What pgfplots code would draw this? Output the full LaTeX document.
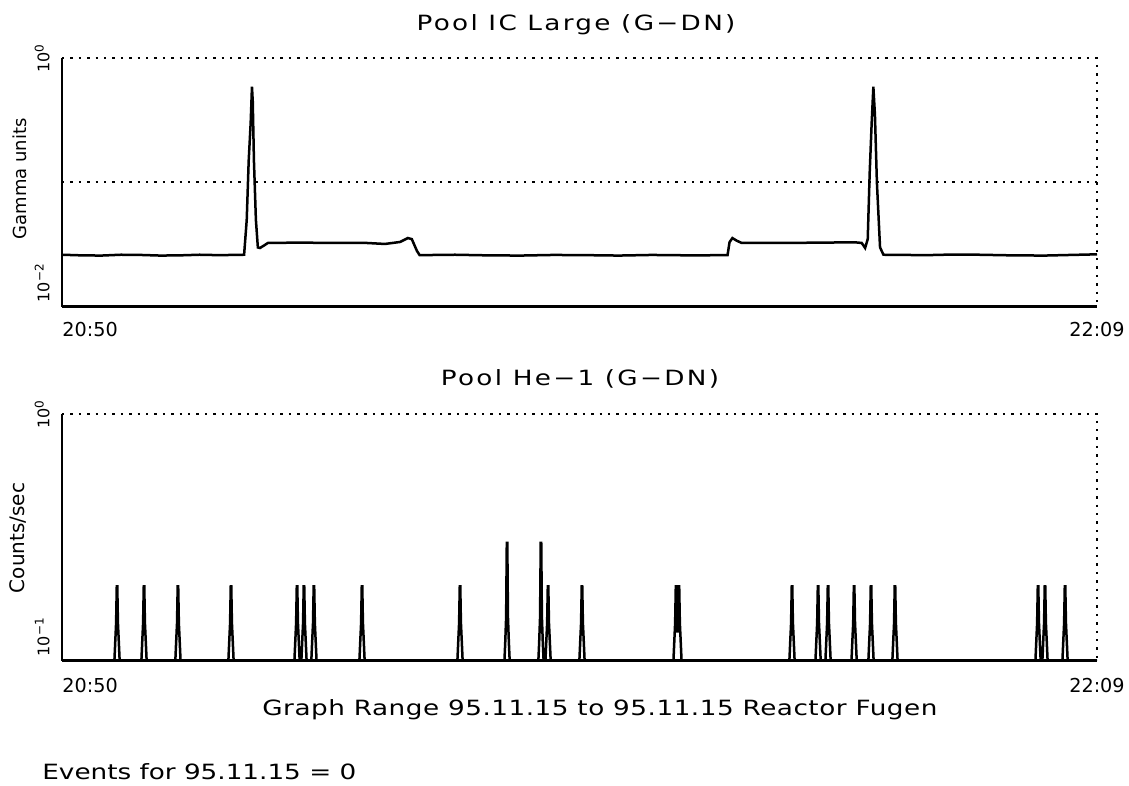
\documentclass[border=0pt]{standalone}
\usepackage{fontspec}
\setmainfont{DejaVu Sans}
\newfontfamily\spacedT[FakeStretch=1.25, LetterSpace=11]{DejaVu Sans}
\newfontfamily\spacedG[FakeStretch=1.25, LetterSpace=2.5]{DejaVu Sans}
\newfontfamily\stretchE[FakeStretch=1.25]{DejaVu Sans}
\usepackage{pgfplots}
\pgfplotsset{compat=1.18}
\tikzset{dotline/.style={black, line width=1pt, dash pattern=on 1.2pt off 3pt},
  ylab/.style={rotate=90, inner sep=0pt, font=\fontsize{8}{9}\selectfont},
  xlab/.style={inner sep=0pt, font=\fontsize{9.6}{11}\selectfont}}
\begin{document}
\begin{tikzpicture}
\path (0,0) rectangle (564.5pt,393pt);
% ---------- top panel ----------
\begin{axis}[at={(31pt,239.65pt)}, anchor=south west, scale only axis, width=517.5pt, height=124.2pt,
  xmin=0, xmax=79, ymode=log, ymin=0.01, ymax=1, clip mode=individual,
  axis x line*=bottom, axis y line*=left, xtick=\empty, ytick=\empty,
  x axis line style={line width=1.5pt}, y axis line style={line width=1pt}]
\addplot[black, line width=1.25pt] coordinates {
(0,0.0262) (1.5,0.0259) (3,0.0258) (4.5,0.0262) (6,0.0261) (7.5,0.0258) (9,0.0259) (10.5,0.0262) (12,0.026) (13.9,0.0262)
(14.1,0.05) (14.25,0.15) (14.4,0.3) (14.5,0.59) (14.56,0.45) (14.65,0.15) (14.8,0.05) (14.95,0.03)
(15.11,0.0297) (15.4,0.031) (15.72,0.0326) (18,0.0328) (21,0.0326) (23,0.0327) (24.65,0.032)
(25.8,0.0332) (26.4,0.0357) (26.7,0.035) (27.1,0.028) (27.3,0.026)
(30,0.0262) (32.5,0.0259) (35,0.0258) (37.5,0.0261) (40,0.026) (42.5,0.0258) (45,0.0261) (48,0.0259) (50.8,0.026)
(50.95,0.033) (51.17,0.0357) (51.5,0.034) (51.88,0.0326) (55,0.0326) (58,0.0328) (60.5,0.033) (61.04,0.0326)
(61.3,0.0297) (61.5,0.035) (61.65,0.12) (61.8,0.3) (61.93,0.59) (62.05,0.35) (62.2,0.1) (62.44,0.03)
(62.7,0.0262) (66,0.026) (68,0.0263) (70,0.0262) (72.5,0.0259) (75,0.0258) (77,0.0261) (79,0.0264)
};
\addplot[black, line width=1pt, dash pattern=on 1.2pt off 3pt] coordinates {(0,0.1) (79,0.1)};
\draw[dotline] (rel axis cs:0,1) -- (rel axis cs:1,1) -- (rel axis cs:1,0);
\node[ylab, anchor=south] at ([xshift=-6pt]rel axis cs:0,1) {10\textsuperscript{0}};
\node[ylab, anchor=south west] at ([xshift=-6pt,yshift=2pt]rel axis cs:0,0) {10\textsuperscript{−2}};
\node[xlab, anchor=north west] at ([yshift=-7.5pt]rel axis cs:0,0) {20:50};
\node[xlab, anchor=north] at ([yshift=-7.5pt]rel axis cs:1,0) {22:09};
\end{axis}
% ---------- bottom panel ----------
\begin{axis}[at={(31pt,62.65pt)}, anchor=south west, scale only axis, width=517.5pt, height=123.35pt,
  xmin=0, xmax=79, ymode=log, ymin=0.1, ymax=1, clip mode=individual,
  axis x line*=bottom, axis y line*=left, xtick=\empty, ytick=\empty,
  x axis line style={line width=1.5pt}, y axis line style={line width=1pt}]
\addplot[black, line width=1.25pt] coordinates {
(0,0.1)
(4.00,0.1) (4.06,0.118) (4.13,0.142) (4.18,0.2) (4.22,0.2) (4.27,0.142) (4.34,0.118) (4.40,0.1)
(6.06,0.1) (6.12,0.118) (6.19,0.142) (6.24,0.2) (6.28,0.2) (6.33,0.142) (6.40,0.118) (6.46,0.1)
(8.65,0.1) (8.71,0.118) (8.78,0.142) (8.83,0.2) (8.87,0.2) (8.92,0.142) (8.99,0.118) (9.05,0.1)
(12.70,0.1) (12.76,0.118) (12.83,0.142) (12.88,0.2) (12.92,0.2) (12.97,0.142) (13.04,0.118) (13.10,0.1)
(17.74,0.1) (17.80,0.118) (17.87,0.142) (17.92,0.2) (17.96,0.2) (18.01,0.142) (18.08,0.118) (18.14,0.1)
(18.27,0.1) (18.33,0.118) (18.40,0.142) (18.45,0.2) (18.49,0.2) (18.54,0.142) (18.61,0.118) (18.67,0.1)
(19.03,0.1) (19.09,0.118) (19.16,0.142) (19.21,0.2) (19.25,0.2) (19.30,0.142) (19.37,0.118) (19.43,0.1)
(22.70,0.1) (22.76,0.118) (22.83,0.142) (22.88,0.2) (22.92,0.2) (22.97,0.142) (23.04,0.118) (23.10,0.1)
(30.18,0.1) (30.24,0.118) (30.31,0.142) (30.36,0.2) (30.40,0.2) (30.45,0.142) (30.52,0.118) (30.58,0.1)
(33.77,0.1) (33.83,0.118) (33.90,0.15) (33.95,0.3) (33.99,0.3) (34.04,0.15) (34.11,0.118) (34.17,0.1)
(36.36,0.1) (36.42,0.118) (36.49,0.15) (36.54,0.3) (36.58,0.3) (36.63,0.15) (36.70,0.118) (36.76,0.1)
(36.90,0.1) (36.96,0.118) (37.03,0.142) (37.08,0.2) (37.12,0.2) (37.17,0.142) (37.24,0.118) (37.30,0.1)
(39.49,0.1) (39.55,0.118) (39.62,0.142) (39.67,0.2) (39.71,0.2) (39.76,0.142) (39.83,0.118) (39.89,0.1)
(46.67,0.1) (46.73,0.118) (46.80,0.142) (46.85,0.2) (46.89,0.2) (46.94,0.142) (46.98,0.13) (47.02,0.142) (47.07,0.2) (47.11,0.2) (47.16,0.142) (47.23,0.118) (47.29,0.1)
(55.52,0.1) (55.58,0.118) (55.65,0.142) (55.70,0.2) (55.74,0.2) (55.79,0.142) (55.86,0.118) (55.92,0.1)
(57.51,0.1) (57.57,0.118) (57.64,0.142) (57.69,0.2) (57.73,0.2) (57.78,0.142) (57.85,0.118) (57.91,0.1)
(58.27,0.1) (58.33,0.118) (58.40,0.142) (58.45,0.2) (58.49,0.2) (58.54,0.142) (58.61,0.118) (58.67,0.1)
(60.26,0.1) (60.32,0.118) (60.39,0.142) (60.44,0.2) (60.48,0.2) (60.53,0.142) (60.60,0.118) (60.66,0.1)
(61.55,0.1) (61.61,0.118) (61.68,0.142) (61.73,0.2) (61.77,0.2) (61.82,0.142) (61.89,0.118) (61.95,0.1)
(63.38,0.1) (63.44,0.118) (63.51,0.142) (63.56,0.2) (63.60,0.2) (63.65,0.142) (63.72,0.118) (63.78,0.1)
(74.30,0.1) (74.36,0.118) (74.43,0.142) (74.48,0.2) (74.52,0.2) (74.57,0.142) (74.64,0.118) (74.70,0.1)
(74.83,0.1) (74.89,0.118) (74.96,0.142) (75.01,0.2) (75.05,0.2) (75.10,0.142) (75.17,0.118) (75.23,0.1)
(76.36,0.1) (76.42,0.118) (76.49,0.142) (76.54,0.2) (76.58,0.2) (76.63,0.142) (76.70,0.118) (76.76,0.1)
(79,0.1)
};
\draw[dotline] (rel axis cs:0,1) -- (rel axis cs:1,1) -- (rel axis cs:1,0);
\node[ylab, anchor=south] at ([xshift=-6pt]rel axis cs:0,1) {10\textsuperscript{0}};
\node[ylab, anchor=south west] at ([xshift=-6pt,yshift=2pt]rel axis cs:0,0) {10\textsuperscript{−1}};
\node[xlab, anchor=north west] at ([yshift=-8.5pt]rel axis cs:0,0) {20:50};
\node[xlab, anchor=north] at ([yshift=-8.5pt]rel axis cs:1,0) {22:09};
\end{axis}
% ---------- texts ----------
\node[anchor=base, inner sep=0pt] at (288pt,377.5pt) {\spacedT\fontsize{10.5}{12}\selectfont Pool IC Large (G−DN)};
\node[anchor=base, inner sep=0pt] at (290pt,200pt) {\spacedT\fontsize{10.5}{12}\selectfont Pool He−1 (G−DN)};
\node[rotate=90, inner sep=0pt, font=\fontsize{9}{11}\selectfont] at (10pt,303.5pt) {Gamma units};
\node[rotate=90, inner sep=0pt, font=\fontsize{10}{12}\selectfont] at (9pt,124pt) {Counts/sec};
\node[anchor=base west, inner sep=0pt] at (131pt,35pt) {\spacedG\fontsize{10.5}{12}\selectfont Graph Range 95.11.15 to 95.11.15 Reactor Fugen};
\node[anchor=base west, inner sep=0pt] at (21pt,3pt) {\stretchE\fontsize{10.5}{12}\selectfont Events for 95.11.15 = 0};
\end{tikzpicture}
\end{document}
